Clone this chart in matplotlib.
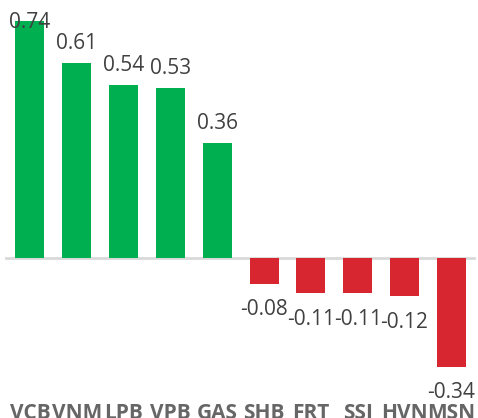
import matplotlib
matplotlib.use('Agg')
import matplotlib.pyplot as plt
import numpy as np

tickers = ['VCB', 'VNM', 'LPB', 'VPB', 'GAS', 'SHB', 'FRT', 'SSI', 'HVN', 'MSN']
values = [0.74, 0.61, 0.54, 0.53, 0.36, -0.08, -0.11, -0.11, -0.12, -0.34]

GREEN, RED = '#00B050', '#D7262F'
plt.rcParams['font.family'] = ['Open Sans', 'DejaVu Sans']

fig = plt.figure(figsize=(4.78, 4.18), dpi=100)
ax = fig.add_axes([0, 0, 1, 1])
x = np.arange(len(tickers))
colors = [GREEN if v > 0 else RED for v in values]
ax.bar(x, values, width=0.62, color=colors, zorder=2)
ax.plot([-0.52, 9.49], [0, 0], color='#D9D9D9', linewidth=2, zorder=1)

# value labels (the top one is pushed down inside the frame)
for xi, v in zip(x, values):
    if v > 0:
        y = min(v + 0.044, 0.719)
    else:
        y = v - 0.098
    ax.text(xi, y, f'{v:.2f}', ha='center', va='baseline', fontsize=15, color='#404040')

for xi, t in zip(x, tickers):
    ax.text(xi, -0.503, t, ha='center', va='baseline', fontsize=15, fontweight='bold', color='#666666')

ax.set_xlim(-0.64, 9.57)
ax.set_ylim(-0.5, 0.806)
ax.axis('off')
fig.savefig('out.png', dpi=100)
